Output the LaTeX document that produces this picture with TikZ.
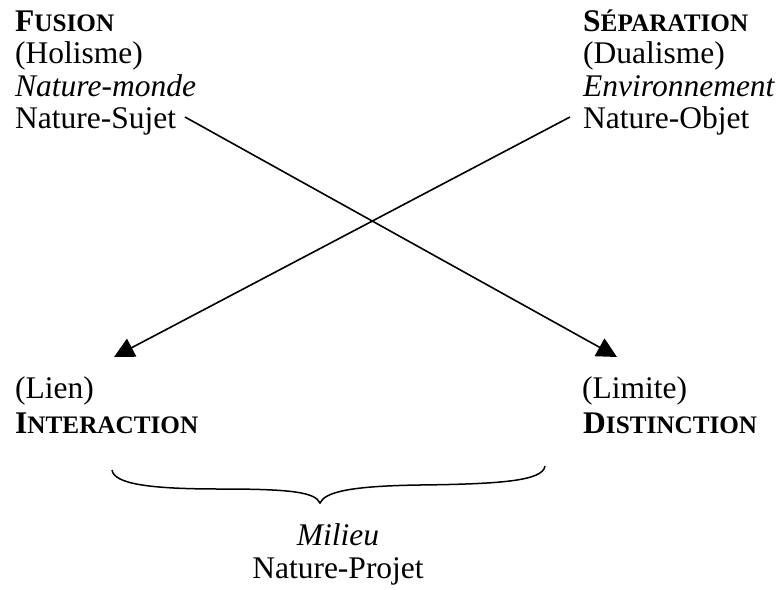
\documentclass[tikz,border=0pt]{standalone}
\usepackage{fontspec}
\setmainfont{Liberation Serif}
\usetikzlibrary{arrows.meta}
\newcommand\mysc[2]{\textbf{#1{\fontsize{25.2}{30}\selectfont #2}}}
\begin{document}
\begin{tikzpicture}[x=1pt,y=-1pt,
  every node/.style={inner sep=0pt, font=\fontsize{31.5}{33}\selectfont},
  txt/.style={anchor=base west},
  ctxt/.style={anchor=base},
  link/.style={line width=1.6pt, -{Triangle[length=20pt,width=20pt]}},
  bracepath/.style={line width=1.5pt}]
\useasboundingbox (0,0) rectangle (779,589);
% top left
\node[txt] (f1) at (15,31) {\mysc{F}{USION}};
\node[txt] (f2) at (15,63.5) {(Holisme)};
\node[txt] (f3) at (15,96) {\textit{Nature-monde}};
\node[txt] (f4) at (15,128.5) {Nature-Sujet};
% top right
\node[txt] (s1) at (583,31) {\mysc{S}{ÉPARATION}};
\node[txt] (s2) at (583,63.5) {(Dualisme)};
\node[txt] (s3) at (583,96) {\textit{Environnement}};
\node[txt] (s4) at (583,128.5) {Nature-Objet};
% bottom left
\node[txt] (i1) at (15,398) {(Lien)};
\node[txt] (i2) at (15,433) {\mysc{I}{NTERACTION}};
% bottom right
\node[txt] (d1) at (582,398) {(Limite)};
\node[txt] (d2) at (583,433) {\mysc{D}{ISTINCTION}};
% bottom centre
\node[ctxt] (m1) at (338,545) {\textit{Milieu}};
\node[ctxt] (m2) at (338,578) {Nature-Projet};
% arrows
\coordinate (a1) at (185,117);
\coordinate (a2) at (617,357);
\coordinate (b1) at (570,117);
\coordinate (b2) at (114,357);
\draw[link] (a1) -- (a2);
\draw[link] (b1) -- (b2);
% brace
\coordinate (bl) at (112,470);
\coordinate (bt) at (320,503);
\coordinate (br) at (545,466);
\draw[bracepath] (bl) .. controls (114,484) and (150,489) .. (220,489)
  .. controls (290,489) and (315,492) .. (bt)
  .. controls (325,492) and (350,486) .. (420,485)
  .. controls (500,484) and (543,481) .. (br);
\end{tikzpicture}
\end{document}
